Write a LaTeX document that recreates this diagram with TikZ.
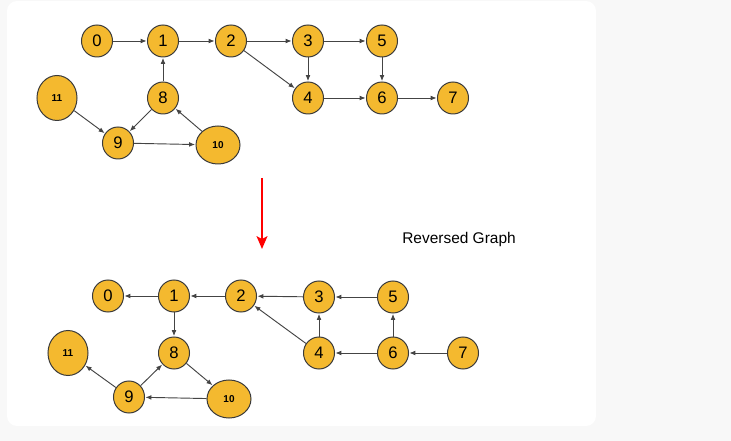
\documentclass[tikz,border=0pt]{standalone}
\usepackage{fontspec}
\setmainfont{Liberation Sans}
\usetikzlibrary{shapes.geometric,arrows.meta}
\definecolor{pagebg}{HTML}{F8F8F8}
\definecolor{vfill}{HTML}{F4B92F}
\definecolor{vline}{HTML}{3A3A3A}
\definecolor{eline}{HTML}{444444}
\begin{document}
\begin{tikzpicture}[x=0.75pt,y=-0.75pt,
  vtx/.style={ellipse,draw=vline,line width=0.75pt,fill=vfill,inner sep=0pt,
    minimum width=23.25pt,minimum height=24pt,font=\fontsize{12.5}{14}\selectfont},
  bigv/.style={vtx,minimum width=30pt,minimum height=33.75pt,font=\fontsize{7.5}{9}\selectfont\bfseries},
  widev/.style={vtx,minimum width=33pt,minimum height=28.5pt,font=\fontsize{7.5}{9}\selectfont\bfseries},
  edge/.style={draw=eline,line width=0.7pt,-{Latex[length=4.5pt,width=3.6pt]},shorten >=0.3pt}]
  % page and card
  \fill[pagebg] (0,0) rectangle (731,441);
  \fill[white,rounded corners=7.5pt] (7,1) rectangle (596,426);
  \useasboundingbox (0,0) rectangle (731,441);

  % original graph
  \node[vtx] (a0) at (97,41) {0};
  \node[vtx] (a1) at (163,41) {1};
  \node[vtx] (a2) at (231,41) {2};
  \node[vtx] (a3) at (308,41) {3};
  \node[vtx] (a5) at (382,41) {5};
  \node[vtx] (a4) at (308,98) {4};
  \node[vtx] (a6) at (382,98) {6};
  \node[vtx] (a7) at (453,98) {7};
  \node[vtx] (a8) at (163,98) {8};
  \node[bigv] (a11) at (57,98) {11};
  \node[vtx] (a9) at (118,143) {9};
  \node[widev] (a10) at (218,145) {10};

  \draw[edge] (a0) -- (a1);
  \draw[edge] (a1) -- (a2);
  \draw[edge] (a2) -- (a3);
  \draw[edge] (a3) -- (a5);
  \draw[edge] (a2) -- (a4);
  \draw[edge] (a3) -- (a4);
  \draw[edge] (a5) -- (a6);
  \draw[edge] (a4) -- (a6);
  \draw[edge] (a6) -- (a7);
  \draw[edge] (a8) -- (a1);
  \draw[edge] (a8) -- (a9);
  \draw[edge] (a11) -- (a9);
  \draw[edge] (a9) -- (a10);
  \draw[edge] (a10) -- (a8);

  % transformation arrow and caption
  \coordinate (rtop) at (262,178);
  \coordinate (rbot) at (262,249);
  \draw[red,line width=1.8pt,-{Stealth[length=9.5pt,width=8pt,inset=2pt]}] (rtop) -- (rbot);
  \node[anchor=west,inner sep=0pt,font=\fontsize{11.6}{13}\selectfont] (cap) at (402,240) {Reversed Graph};

  % reversed graph
  \node[vtx] (b0) at (108,296) {0};
  \node[vtx] (b1) at (174,296) {1};
  \node[vtx] (b2) at (241,296) {2};
  \node[vtx] (b3) at (319,297) {3};
  \node[vtx] (b5) at (393,297) {5};
  \node[vtx] (b4) at (319,353) {4};
  \node[vtx] (b6) at (393,353) {6};
  \node[vtx] (b7) at (463,353) {7};
  \node[vtx] (b8) at (174,353) {8};
  \node[bigv] (b11) at (68,353) {11};
  \node[vtx] (b9) at (129,397) {9};
  \node[widev] (b10) at (229,399) {10};

  \draw[edge] (b1) -- (b0);
  \draw[edge] (b2) -- (b1);
  \draw[edge] (b3) -- (b2);
  \draw[edge] (b5) -- (b3);
  \draw[edge] (b4) -- (b2);
  \draw[edge] (b4) -- (b3);
  \draw[edge] (b6) -- (b5);
  \draw[edge] (b6) -- (b4);
  \draw[edge] (b7) -- (b6);
  \draw[edge] (b1) -- (b8);
  \draw[edge] (b9) -- (b8);
  \draw[edge] (b9) -- (b11);
  \draw[edge] (b10) -- (b9);
  \draw[edge] (b8) -- (b10);
\end{tikzpicture}
\end{document}
